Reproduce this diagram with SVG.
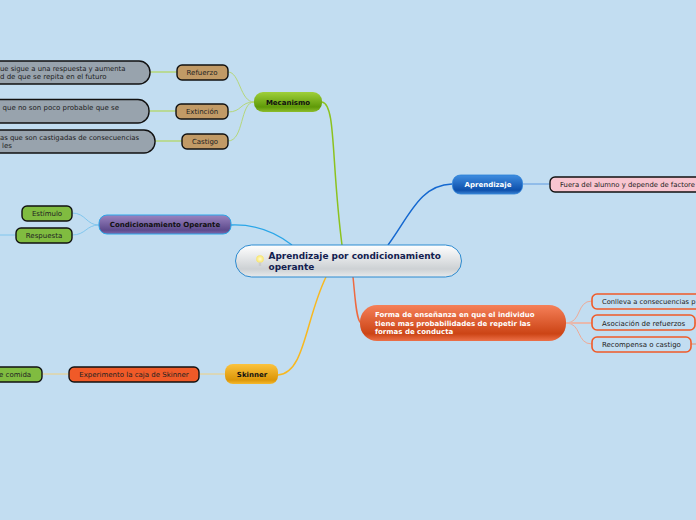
<svg xmlns="http://www.w3.org/2000/svg" width="696" height="520" viewBox="0 0 696 520">
<style>
text{font-family:"DejaVu Sans","Liberation Sans",sans-serif;font-size:7px;fill:#222}
.b{font-weight:bold;fill:#111}
.w{font-weight:bold;fill:#fff}
.l{fill:none}
.k{stroke:#111;stroke-width:1.4}
.o{fill:#c2ddf1;stroke:#f05a28;stroke-width:1.6}
.m{text-anchor:middle}
.t{font-size:8.95px;font-weight:bold;fill:#12204f}
text.s{font-size:6.85px}
text.x{font-size:6.75px}
</style>
<defs>
<linearGradient id="gG" x1="0" y1="0" x2="0" y2="1"><stop offset="0" stop-color="#9fcf3a"/><stop offset=".75" stop-color="#5f9a08"/><stop offset="1" stop-color="#8dbd2c"/></linearGradient>
<linearGradient id="gP" x1="0" y1="0" x2="0" y2="1"><stop offset="0" stop-color="#9a84c0"/><stop offset=".8" stop-color="#5d4a8c"/><stop offset="1" stop-color="#7d68ab"/></linearGradient>
<linearGradient id="gB" x1="0" y1="0" x2="0" y2="1"><stop offset="0" stop-color="#3f8de0"/><stop offset=".8" stop-color="#0d50ac"/><stop offset="1" stop-color="#3a80d0"/></linearGradient>
<linearGradient id="gR" x1="0" y1="0" x2="0" y2="1"><stop offset="0" stop-color="#f58059"/><stop offset=".8" stop-color="#cc4415"/><stop offset="1" stop-color="#ec7048"/></linearGradient>
<linearGradient id="gY" x1="0" y1="0" x2="0" y2="1"><stop offset="0" stop-color="#fbc33e"/><stop offset=".8" stop-color="#dc9608"/><stop offset="1" stop-color="#f5b92e"/></linearGradient>
<linearGradient id="gC" x1="0" y1="0" x2="0" y2="1"><stop offset="0" stop-color="#fff"/><stop offset=".75" stop-color="#cdd1d4"/><stop offset="1" stop-color="#e8eaec"/></linearGradient>
<radialGradient id="gL"><stop offset="0" stop-color="#fffbd0"/><stop offset="1" stop-color="#f8e56a"/></radialGradient>
</defs>
<rect width="696" height="520" fill="#c2ddf1"/>
<g id="connectors">
<path class="l" stroke="#8cc21e" stroke-width="1.5" d="M322 102C336 104 331 160 342 245"/>
<path class="l" stroke="#b5d77a" d="M254 102C240 102 240 72 228 72"/>
<path class="l" stroke="#b5d77a" d="M254 102C240 102 242 112 228 112"/>
<path class="l" stroke="#b5d77a" d="M254 102C240 102 244 141 228 141"/>
<path class="l" stroke="#b5d77a" stroke-width="1.3" d="M150 72H177M149 111H176M155 141H182"/>
<path class="l" stroke="#2aa6e8" stroke-width="1.3" d="M231 225C255 224 275 232 292 245"/>
<path class="l" stroke="#80c6ee" d="M99 225C86 225 86 213 72 213M99 225C86 225 86 235 72 235M16 235H0"/>
<path class="l" stroke="#1468d0" stroke-width="1.5" d="M388 245C410 215 420 185 452 184"/>
<path class="l" stroke="#5f9ae0" d="M523 184H550"/>
<path class="l" stroke="#ee6a40" stroke-width="1.5" d="M353 277C355 295 356 320 361 323"/>
<path class="l" stroke="#eeaa96" d="M566 323C582 323 576 301 592 301M592 344C576 344 582 323 566 323"/>
<path class="l" stroke="#e8b8ac" stroke-width="2" d="M566 323H592"/>
<path class="l" stroke="#ee8a68" d="M691 344H696M695 323H696"/>
<path class="l" stroke="#f8b820" stroke-width="1.5" d="M326 277C305 320 305 373 278 375"/>
<path class="l" stroke="#f0d080" d="M225 374H199M69 374H42"/>
</g>
<g id="central">
<rect x="235.500" y="245" width="226" height="32" rx="16" fill="url(#gC)" stroke="#2b8ad0"/>
<circle cx="260" cy="259" r="3.800" fill="url(#gL)"/>
<rect x="258.800" y="262.500" width="2.400" height="3.500" fill="#ccc"/>
<text class="t" x="268.500" y="259">Aprendizaje por condicionamiento</text>
<text class="t" x="268.500" y="270">operante</text>
</g>
<g id="mecanismo"><rect x="254" y="92" width="68" height="20" rx="9" fill="url(#gG)"/><text class="b m" x="288" y="105">Mecanismo</text></g>
<g id="refuerzo"><rect x="177" y="65" width="51" height="15" rx="5" fill="#c19a66" class="k"/><text class="m" x="202" y="75">Refuerzo</text></g>
<g id="extincion"><rect x="176" y="104" width="52" height="15" rx="5" fill="#c19a66" class="k"/><text class="m" x="202" y="114">Extinción</text></g>
<g id="castigo"><rect x="182" y="134" width="46" height="15" rx="5" fill="#c19a66" class="k"/><text class="m" x="205" y="144">Castigo</text></g>
<g id="def-refuerzo"><rect x="-30" y="61" width="180" height="23" rx="11" fill="#98a3ad" class="k"/><text class="s" x="0" y="71">ue sigue a una respuesta y aumenta</text><text x="0" y="79">d de que se repita en el futuro</text></g>
<g id="def-extincion"><rect x="-30" y="99.500" width="179" height="23.500" rx="11" fill="#98a3ad" class="k"/><text x="2.500" y="110">que no son poco probable que se</text></g>
<g id="def-castigo"><rect x="-30" y="130" width="185" height="23" rx="11" fill="#98a3ad" class="k"/><text class="s" x="0" y="140">as que son castigadas de consecuencias</text><text x="2" y="148">les</text></g>
<g id="condicionamiento"><rect x="99" y="215" width="132" height="19" rx="8" fill="url(#gP)" stroke="#2aa6e8"/><text class="b m" x="165" y="227">Condicionamiento Operante</text></g>
<g id="estimulo"><rect x="22" y="206" width="50" height="15" rx="5" fill="#80bc40" class="k"/><text class="m" x="47" y="216">Estímulo</text></g>
<g id="respuesta"><rect x="16" y="228" width="56" height="15" rx="5" fill="#80bc40" class="k"/><text class="m" x="44" y="238">Respuesta</text></g>
<g id="aprendizaje"><rect x="452.500" y="175" width="70" height="19" rx="8" fill="url(#gB)" stroke="#2a80d8" stroke-width=".8"/><text class="w m" x="488" y="187">Aprendizaje</text></g>
<g id="fuera"><rect x="550" y="177" width="160" height="15" rx="5" fill="#f8c5d0" class="k"/><text class="s" x="560" y="187">Fuera del alumno y depende de factore</text></g>
<g id="forma"><rect x="360" y="305" width="206" height="36" rx="17" fill="url(#gR)"/><text class="w" x="375" y="317">Forma de enseñanza en que el individuo</text><text class="w" x="375" y="326">tiene mas probabilidades de repetir las</text><text class="w" x="375" y="334">formas de conducta</text></g>
<g id="conlleva"><rect x="592" y="294" width="120" height="15" class="o" rx="5"/><text class="x" x="602" y="304">Conlleva a consecuencias p</text></g>
<g id="asociacion"><rect x="592" y="315" width="103" height="15" class="o" rx="5"/><text x="602" y="326">Asociación de refuerzos</text></g>
<g id="recompensa"><rect x="592" y="337" width="99" height="15" class="o" rx="5"/><text x="602" y="347">Recompensa o castigo</text></g>
<g id="skinner"><rect x="225" y="364" width="53" height="20" rx="8" fill="url(#gY)"/><text class="b m" x="252" y="377">Skinner</text></g>
<g id="experimento"><rect x="69" y="367" width="130" height="15" rx="5" fill="#f05a28" class="k"/><text class="m" x="134" y="377">Experimento la caja de Skinner</text></g>
<g id="comida"><rect x="-20" y="367" width="62" height="15" rx="5" fill="#80bc40" class="k"/><text x="-1" y="377">e comida</text></g>
</svg>
